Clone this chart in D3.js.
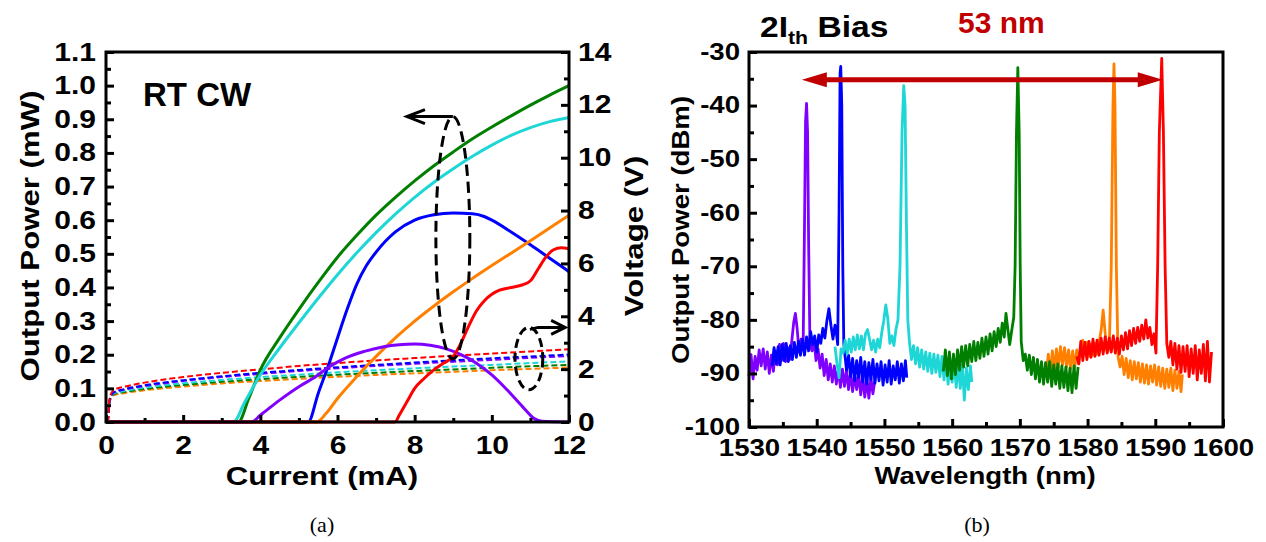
<!DOCTYPE html>
<html><head><meta charset="utf-8">
<script src="https://cdn.jsdelivr.net/npm/d3@7"></script>
<style>
html,body{margin:0;padding:0;background:#fff;}
svg{display:block;}
text{font-family:"Liberation Sans",Arial,sans-serif;font-weight:bold;fill:#000;}
</style></head>
<body>
<svg id="chart" width="1266" height="542"></svg>
<script>
// ---------- Panel (a) data ----------
const liGreen  = [[0,0],[3.43,0],[3.7,0.07],[4,0.155],[4.5,0.25],[5,0.335],[5.5,0.415],[6,0.49],[6.5,0.555],[7,0.615],[7.5,0.668],[8,0.717],[8.5,0.762],[9,0.803],[9.5,0.842],[10,0.877],[10.5,0.91],[11,0.942],[11.5,0.972],[12,1.0]];
const liCyan   = [[0,0],[3.3,0],[3.6,0.06],[4,0.14],[4.5,0.22],[5,0.295],[5.5,0.368],[6,0.438],[6.5,0.503],[7,0.563],[7.5,0.618],[8,0.668],[8.5,0.713],[9,0.753],[9.5,0.79],[10,0.823],[10.5,0.852],[11,0.875],[11.5,0.893],[12,0.905]];
const liBlue   = [[0,0],[5.24,0],[5.5,0.085],[5.8,0.18],[6,0.25],[6.25,0.335],[6.5,0.41],[6.75,0.465],[7,0.505],[7.5,0.565],[8,0.60],[8.5,0.616],[9,0.621],[9.5,0.619],[9.8,0.611],[10,0.60],[10.5,0.565],[11,0.527],[11.5,0.487],[12,0.447]];
const liOrange = [[0,0],[5.46,0],[5.7,0.025],[6,0.07],[6.5,0.135],[7,0.195],[7.5,0.25],[8,0.30],[8.5,0.345],[9,0.387],[9.5,0.427],[10,0.465],[10.5,0.502],[11,0.539],[11.5,0.577],[12,0.615]];
const liPurple = [[0,0],[3.77,0],[4,0.02],[4.5,0.065],[5,0.105],[5.4,0.132],[5.8,0.165],[6.2,0.19],[6.7,0.21],[7.2,0.224],[7.6,0.23],[8,0.232],[8.4,0.228],[8.8,0.218],[9.2,0.2],[9.6,0.175],[10,0.14],[10.4,0.095],[10.8,0.045],[11.1,0.01],[11.3,0.002],[12,0]];
const liRed    = [[0,0],[7.49,0],[7.6,0.02],[7.8,0.06],[8.0,0.10],[8.25,0.13],[8.5,0.155],[8.75,0.175],[9.0,0.195],[9.2,0.235],[9.4,0.285],[9.6,0.33],[9.8,0.36],[10.0,0.38],[10.2,0.392],[10.5,0.40],[10.8,0.408],[11.0,0.42],[11.2,0.455],[11.4,0.49],[11.6,0.512],[11.8,0.518],[12,0.515]];

const currentV = [0.05,0.1,0.2,0.5,1,2,3,4,5,6,7,8,9,10,11,12];
const vRed    = [0,0.95,1.21,1.34,1.49,1.70,1.86,1.99,2.12,2.23,2.33,2.42,2.51,2.59,2.67,2.75];
const vBlue   = [0,0.88,1.13,1.25,1.39,1.58,1.73,1.86,1.97,2.07,2.16,2.25,2.33,2.41,2.48,2.55];
const vPurple = [0,0.86,1.11,1.23,1.36,1.55,1.70,1.82,1.93,2.03,2.12,2.20,2.28,2.35,2.43,2.49];
const vCyan   = [0,0.84,1.08,1.18,1.30,1.47,1.59,1.70,1.79,1.88,1.96,2.03,2.10,2.16,2.23,2.29];
const vGreen  = [0,0.82,1.05,1.14,1.25,1.40,1.52,1.62,1.71,1.79,1.86,1.93,1.99,2.05,2.11,2.16];
const vOrange = [0,0.79,1.01,1.10,1.20,1.34,1.46,1.55,1.63,1.71,1.78,1.84,1.90,1.96,2.01,2.06];

const aXTicks = [0,2,4,6,8,10,12];
const aYTicks = [0,0.1,0.2,0.3,0.4,0.5,0.6,0.7,0.8,0.9,1.0,1.1];
const aVTicks = [0,2,4,6,8,10,12,14];

// ---------- Panel (b) data ----------
const spPurple = [[1530.0,-90.5],[1530.3,-86.5],[1530.6,-91.0],[1530.9,-86.8],[1531.2,-89.4],[1531.5,-85.6],[1531.8,-88.6],[1532.1,-85.4],[1532.4,-89.2],[1532.7,-86.0],[1533.0,-90.0],[1533.3,-86.6],[1533.6,-89.6],[1533.9,-85.8],[1534.2,-88.4],[1534.5,-84.6],[1534.8,-87.6],[1535.1,-84.4],[1535.4,-87.8],[1535.7,-85.2],[1536.0,-87.4],[1536.3,-84.2],[1536.6,-80.5],[1536.85,-78.8],[1537.1,-81.5],[1537.4,-86.0],[1537.7,-83.6],[1538.0,-84.5],[1538.2,-62.0],[1538.35,-43.0],[1538.5,-39.6],[1538.65,-45.0],[1538.8,-65.0],[1539.0,-84.5],[1539.3,-85.8],[1539.6,-83.8],[1539.9,-87.6],[1540.2,-85.4],[1540.5,-89.0],[1540.8,-86.4],[1541.1,-90.4],[1541.4,-87.4],[1541.7,-91.2],[1542.0,-88.2],[1542.3,-91.6],[1542.6,-88.6],[1542.9,-92.0],[1543.2,-89.0],[1543.5,-92.6],[1543.8,-89.2],[1544.1,-92.4],[1544.4,-89.4],[1544.7,-93.0],[1545.0,-89.8],[1545.3,-93.4],[1545.6,-90.2],[1545.9,-93.0],[1546.2,-90.0],[1546.5,-94.0],[1546.8,-90.6],[1547.1,-94.4],[1547.4,-91.0],[1547.7,-94.6],[1548.0,-90.8],[1548.3,-93.8],[1548.6,-91.2]];
const spBlue = [[1533.4,-88.6],[1533.7,-85.2],[1534.0,-88.2],[1534.3,-85.0],[1534.6,-88.4],[1534.9,-84.6],[1535.2,-87.6],[1535.5,-84.4],[1535.8,-87.8],[1536.1,-84.8],[1536.4,-87.4],[1536.7,-84.2],[1537.0,-87.0],[1537.3,-84.0],[1537.6,-86.6],[1537.9,-83.6],[1538.2,-86.6],[1538.5,-83.2],[1538.8,-85.8],[1539.1,-82.2],[1539.4,-84.6],[1539.7,-83.0],[1540.0,-86.0],[1540.3,-82.8],[1540.6,-84.4],[1540.9,-81.6],[1541.2,-83.4],[1541.5,-80.2],[1541.8,-77.9],[1542.1,-81.0],[1542.4,-83.6],[1542.7,-81.0],[1542.9,-82.4],[1543.1,-84.6],[1543.3,-60.0],[1543.45,-34.0],[1543.55,-32.7],[1543.7,-40.0],[1543.85,-70.0],[1544.0,-84.4],[1544.2,-87.0],[1544.4,-89.4],[1544.7,-86.6],[1545.0,-90.6],[1545.3,-87.2],[1545.6,-91.4],[1545.9,-87.6],[1546.2,-90.8],[1546.5,-87.0],[1546.8,-91.6],[1547.1,-87.8],[1547.4,-92.0],[1547.7,-88.0],[1548.0,-91.2],[1548.3,-87.4],[1548.6,-91.8],[1548.9,-88.2],[1549.2,-91.4],[1549.5,-87.8],[1549.8,-92.2],[1550.1,-88.4],[1550.4,-91.6],[1550.7,-87.6],[1551.0,-92.0],[1551.3,-88.6],[1551.6,-91.2],[1551.9,-87.8],[1552.2,-91.8],[1552.5,-88.2],[1552.8,-91.4],[1553.1,-87.6],[1553.3,-90.8]];
const spCyan = [[1542.7,-85.0],[1543.0,-88.2],[1543.3,-90.8],[1543.6,-85.4],[1543.9,-86.2],[1544.2,-83.8],[1544.5,-86.4],[1544.8,-83.6],[1545.1,-86.0],[1545.4,-83.2],[1545.7,-85.6],[1546.0,-82.8],[1546.3,-85.4],[1546.6,-83.0],[1546.9,-85.6],[1547.2,-82.6],[1547.5,-81.8],[1547.8,-83.6],[1548.1,-85.6],[1548.4,-83.8],[1548.7,-86.0],[1549.0,-83.6],[1549.3,-85.2],[1549.6,-82.4],[1549.9,-80.2],[1550.2,-77.2],[1550.5,-79.8],[1550.8,-84.4],[1551.1,-83.0],[1551.4,-84.8],[1551.7,-81.8],[1552.0,-80.0],[1552.3,-70.0],[1552.6,-45.0],[1552.85,-36.3],[1553.05,-40.0],[1553.25,-62.0],[1553.45,-80.0],[1553.7,-84.2],[1554.0,-87.4],[1554.3,-84.8],[1554.6,-88.2],[1554.9,-85.2],[1555.2,-88.8],[1555.5,-85.6],[1555.8,-89.2],[1556.1,-86.0],[1556.4,-89.6],[1556.7,-86.2],[1557.0,-90.0],[1557.3,-86.4],[1557.6,-89.8],[1557.9,-86.6],[1558.2,-90.6],[1558.5,-86.8],[1558.8,-91.2],[1559.1,-87.0],[1559.4,-92.0],[1559.7,-87.4],[1560.0,-91.6],[1560.3,-87.8],[1560.6,-92.6],[1560.9,-88.2],[1561.2,-92.8],[1561.5,-88.4],[1561.8,-95.0],[1562.1,-89.0],[1562.4,-93.0],[1562.7,-88.6],[1562.9,-91.6]];
const spGreen = [[1558.7,-89.6],[1559.0,-85.6],[1559.3,-90.4],[1559.6,-86.0],[1559.9,-91.0],[1560.2,-86.4],[1560.5,-90.2],[1560.8,-85.6],[1561.1,-89.4],[1561.4,-85.0],[1561.7,-88.8],[1562.0,-84.8],[1562.3,-88.6],[1562.6,-84.6],[1562.9,-87.8],[1563.2,-84.0],[1563.5,-87.6],[1563.8,-84.2],[1564.1,-87.2],[1564.4,-83.4],[1564.7,-86.8],[1565.0,-83.2],[1565.3,-86.4],[1565.6,-82.6],[1565.9,-85.8],[1566.2,-82.2],[1566.5,-85.0],[1566.8,-81.6],[1567.1,-84.2],[1567.4,-80.6],[1567.7,-83.2],[1567.95,-78.8],[1568.2,-81.5],[1568.5,-84.6],[1568.8,-82.0],[1569.1,-79.5],[1569.3,-70.0],[1569.5,-45.0],[1569.7,-32.9],[1569.9,-45.0],[1570.05,-70.0],[1570.2,-84.0],[1570.5,-87.6],[1570.8,-86.4],[1571.1,-89.4],[1571.4,-86.6],[1571.7,-90.2],[1572.0,-87.0],[1572.3,-91.0],[1572.6,-87.4],[1572.9,-91.6],[1573.2,-87.8],[1573.5,-92.0],[1573.8,-88.0],[1574.1,-91.6],[1574.4,-87.8],[1574.7,-92.4],[1575.0,-88.4],[1575.3,-92.0],[1575.6,-88.2],[1575.9,-92.8],[1576.2,-88.6],[1576.5,-92.6],[1576.8,-88.8],[1577.1,-93.2],[1577.4,-89.0],[1577.7,-93.6],[1578.0,-88.6],[1578.3,-92.8],[1578.6,-88.8]];
const spOrange = [[1573.9,-90.4],[1574.2,-86.4],[1574.5,-90.2],[1574.8,-85.8],[1575.1,-89.6],[1575.4,-85.4],[1575.7,-88.8],[1576.0,-85.0],[1576.3,-88.4],[1576.6,-85.2],[1576.9,-88.8],[1577.2,-85.6],[1577.5,-89.2],[1577.8,-85.8],[1578.1,-89.0],[1578.4,-85.6],[1578.7,-88.2],[1579.0,-84.8],[1579.3,-83.8],[1579.6,-86.0],[1579.9,-84.2],[1580.2,-86.8],[1580.5,-84.6],[1580.8,-86.6],[1581.1,-84.4],[1581.4,-86.4],[1581.7,-84.2],[1582.0,-82.0],[1582.3,-78.2],[1582.6,-82.5],[1582.9,-86.0],[1583.2,-85.4],[1583.5,-70.0],[1583.75,-40.0],[1583.9,-32.2],[1584.05,-40.0],[1584.25,-70.0],[1584.5,-86.9],[1584.8,-88.8],[1585.1,-86.8],[1585.4,-90.2],[1585.7,-87.2],[1586.0,-90.8],[1586.3,-87.6],[1586.6,-91.2],[1586.9,-87.8],[1587.2,-91.0],[1587.5,-88.0],[1587.8,-91.6],[1588.1,-88.2],[1588.4,-91.8],[1588.7,-88.4],[1589.0,-92.0],[1589.3,-88.6],[1589.6,-91.6],[1589.9,-88.4],[1590.2,-92.2],[1590.5,-88.8],[1590.8,-92.4],[1591.1,-89.0],[1591.4,-92.8],[1591.7,-89.2],[1592.0,-92.6],[1592.3,-89.0],[1592.6,-93.2],[1592.9,-89.4],[1593.2,-92.8],[1593.5,-89.6],[1593.8,-93.4],[1594.0,-90.2]];
const spRed = [[1578.4,-86.8],[1578.7,-88.2],[1579.0,-84.0],[1579.3,-87.6],[1579.6,-84.2],[1579.9,-87.4],[1580.2,-84.0],[1580.5,-87.0],[1580.8,-83.6],[1581.1,-86.8],[1581.4,-83.8],[1581.7,-86.6],[1582.0,-83.4],[1582.3,-86.4],[1582.6,-83.2],[1582.9,-86.2],[1583.2,-83.4],[1583.5,-86.0],[1583.8,-83.0],[1584.1,-86.2],[1584.4,-83.4],[1584.7,-86.4],[1585.0,-83.0],[1585.3,-85.6],[1585.6,-82.4],[1585.9,-85.4],[1586.2,-82.0],[1586.5,-84.8],[1586.8,-81.6],[1587.1,-84.4],[1587.4,-81.4],[1587.7,-84.0],[1588.0,-81.0],[1588.3,-83.6],[1588.6,-80.0],[1588.9,-83.4],[1589.2,-81.4],[1589.5,-84.6],[1589.8,-82.6],[1590.1,-86.2],[1590.35,-70.0],[1590.6,-45.0],[1590.95,-31.2],[1591.2,-45.0],[1591.45,-70.0],[1591.7,-84.4],[1592.0,-87.0],[1592.3,-84.0],[1592.6,-88.4],[1592.9,-84.4],[1593.2,-89.2],[1593.5,-84.8],[1593.8,-89.8],[1594.1,-85.0],[1594.4,-89.6],[1594.7,-84.8],[1595.0,-90.6],[1595.3,-85.4],[1595.6,-90.0],[1595.9,-84.8],[1596.2,-91.2],[1596.5,-85.6],[1596.8,-90.0],[1597.1,-84.6],[1597.4,-91.4],[1597.7,-84.0],[1598.0,-91.6],[1598.3,-86.0]];
const bXTicks = [1530,1540,1550,1560,1570,1580,1590,1600];
const bYTicks = [-100,-90,-80,-70,-60,-50,-40,-30];
const spanArrow = [1537.8, 1591.1];   // wavelength span of the 53 nm arrow
const spanArrowLevel = -35.2;

const COL = {purple:"#8000ff", blue:"#0000ff", cyan:"#1ed6d6", green:"#007f00", orange:"#ff8000", red:"#ff0000"};

// ---------- setup ----------
const svg = d3.select("#chart");
const SX = 1.2; // horizontal stretch of the original lettering

function stretchTicks(g, s){
  g.selectAll(".tick text").each(function(){
    const t = d3.select(this);
    const x = +t.attr("x") || 0;
    t.attr("x", x / s).attr("transform", `scale(${s},1)`);
  });
}
function label(x, y, str, size, opt={}){
  const t = svg.append("text")
    .attr("transform", `translate(${x},${y}) rotate(${opt.rot||0}) scale(${opt.sx||1},1)`)
    .attr("text-anchor", opt.anchor||"middle")
    .style("font-size", size+"px");
  if(opt.fill) t.style("fill", opt.fill);
  if(opt.serif) t.style("font-family",'"Liberation Serif","Times New Roman",serif').style("font-weight","normal");
  t.text(str);
  return t;
}
const plain = d => String(d);

// ================= Panel (a) =================
const xA = d3.scaleLinear().domain([0,12]).range([106,569]);
const yA = d3.scaleLinear().domain([0,1.1]).range([422,52]);
const vA = d3.scaleLinear().domain([0,14]).range([422,52]);

const gA = svg.append("g");
svg.append("clipPath").attr("id","clipA").append("rect")
  .attr("x",106).attr("y",52).attr("width",463).attr("height",370);

const vSeries = [[vOrange,COL.orange],[vGreen,COL.green],[vCyan,COL.cyan],[vPurple,COL.purple],[vBlue,COL.blue],[vRed,COL.red]];
const lineV = d3.line().x((d,i)=>xA(currentV[i])).y(d=>vA(d)).curve(d3.curveMonotoneX);
vSeries.forEach(([arr,c])=>{
  gA.append("path").attr("d", lineV(arr)).attr("fill","none").attr("stroke",c)
    .attr("stroke-width",2).attr("stroke-dasharray","6,3").attr("clip-path","url(#clipA)");
});
const liSeries = [[liGreen,COL.green],[liCyan,COL.cyan],[liBlue,COL.blue],[liOrange,COL.orange],[liPurple,COL.purple],[liRed,COL.red]];
const lineLI = d3.line().x(d=>xA(d[0])).y(d=>yA(d[1])).curve(d3.curveMonotoneX);
liSeries.forEach(([arr,c])=>{
  gA.append("path").attr("d", lineLI(arr)).attr("fill","none").attr("stroke",c)
    .attr("stroke-width",3).attr("stroke-linejoin","round");
});

const axL = gA.append("g").attr("transform","translate(106,0)")
  .call(d3.axisLeft(yA).tickValues(aYTicks).tickFormat(d3.format(".1f")).tickSize(-8).tickPadding(10));
gA.append("g").attr("transform","translate(106,0)")
  .call(d3.axisLeft(yA).tickValues(d3.range(0.05,1.1,0.1)).tickFormat("").tickSize(-5));
const axB = gA.append("g").attr("transform","translate(0,422)")
  .call(d3.axisBottom(xA).tickValues(aXTicks).tickFormat(plain).tickSize(-7).tickPadding(14));
gA.append("g").attr("transform","translate(0,422)")
  .call(d3.axisBottom(xA).tickValues([1,3,5,7,9,11]).tickFormat("").tickSize(-4));
const axR = gA.append("g").attr("transform","translate(569,0)")
  .call(d3.axisRight(vA).tickValues(aVTicks).tickFormat(plain).tickSize(-8).tickPadding(9));
gA.append("g").attr("transform","translate(569,0)")
  .call(d3.axisRight(vA).tickValues([1,3,5,7,9,11,13]).tickFormat("").tickSize(-5));
gA.selectAll(".domain").remove();
gA.selectAll(".tick line").attr("stroke","#000").attr("stroke-width",3);
gA.selectAll(".tick text").style("font-size","25px").style("font-family",'"Liberation Sans",Arial,sans-serif').style("font-weight","bold");
[axL,axB,axR].forEach(g=>stretchTicks(g,SX));
gA.append("rect").attr("x",106).attr("y",52).attr("width",463).attr("height",370)
  .attr("fill","none").attr("stroke","#000").attr("stroke-width",3);

// annotations (a)
const ell1 = {cx:xA(8.99), cy:yA(0.548), rx:xA(0.44)-xA(0), ry:yA(0)-yA(0.36)};
gA.append("ellipse").attr("cx",ell1.cx).attr("cy",ell1.cy).attr("rx",ell1.rx).attr("ry",ell1.ry)
  .attr("fill","none").attr("stroke","#000").attr("stroke-width",3).attr("stroke-dasharray","11,6");
const topY = ell1.cy - ell1.ry;
const arrL = xA(7.8);
gA.append("path").attr("d",`M${ell1.cx},${topY}H${arrL}M${arrL+18},${topY-7}L${arrL},${topY}L${arrL+18},${topY+7}`)
  .attr("fill","none").attr("stroke","#000").attr("stroke-width",3);
const ell2 = {cx:xA(10.96), cy:vA(2.4), rx:xA(0.36)-xA(0), ry:vA(0)-vA(1.18)};
gA.append("ellipse").attr("cx",ell2.cx).attr("cy",ell2.cy).attr("rx",ell2.rx).attr("ry",ell2.ry)
  .attr("fill","none").attr("stroke","#000").attr("stroke-width",3).attr("stroke-dasharray","9,5");
const a2y = vA(3.58), a2x0 = xA(11.2), a2x1 = xA(11.9);
gA.append("path").attr("d",`M${ell2.cx+1},${ell2.cy-ell2.ry+2}L${a2x0},${a2y}H${a2x1}M${a2x1-14},${a2y-7}L${a2x1},${a2y}L${a2x1-14},${a2y+7}`)
  .attr("fill","none").attr("stroke","#000").attr("stroke-width",3);

label(143, 106, "RT CW", 33, {anchor:"start"});
label(39, 236, "Output Power (mW)", 26, {rot:-90, sx:SX});
label(322, 485, "Current (mA)", 26, {sx:SX});
label(643, 236, "Voltage (V)", 26, {rot:-90, sx:SX});
label(322, 532, "(a)", 22, {serif:true});

// ================= Panel (b) =================
const xB = d3.scaleLinear().domain([1530,1600]).range([749,1223]);
const yB = d3.scaleLinear().domain([-100,-30]).range([427,52]);
const gB = svg.append("g");
const lineB = d3.line().x(d=>xB(d[0])).y(d=>yB(d[1]));
[[spPurple,COL.purple],[spBlue,COL.blue],[spCyan,COL.cyan],[spOrange,COL.orange],[spGreen,COL.green],[spRed,COL.red]].forEach(([arr,c])=>{
  gB.append("path").attr("d", lineB(arr)).attr("fill","none").attr("stroke",c)
    .attr("stroke-width",2.8).attr("stroke-linejoin","round");
});
const bL = gB.append("g").attr("transform","translate(749,0)")
  .call(d3.axisLeft(yB).tickValues(bYTicks).tickFormat(plain).tickSize(-8).tickPadding(9));
gB.append("g").attr("transform","translate(749,0)")
  .call(d3.axisLeft(yB).tickValues([-95,-85,-75,-65,-55,-45,-35]).tickFormat("").tickSize(-5));
const bB = gB.append("g").attr("transform","translate(0,427)")
  .call(d3.axisBottom(xB).tickValues(bXTicks).tickFormat(plain).tickSize(-8).tickPadding(13));
gB.append("g").attr("transform","translate(0,427)")
  .call(d3.axisBottom(xB).tickValues([1535,1545,1555,1565,1575,1585,1595]).tickFormat("").tickSize(-5));
gB.selectAll(".domain").remove();
gB.selectAll(".tick line").attr("stroke","#000").attr("stroke-width",3);
gB.selectAll(".tick text").style("font-size","23px").style("font-family",'"Liberation Sans",Arial,sans-serif').style("font-weight","bold");
[bL,bB].forEach(g=>stretchTicks(g,SX));
gB.append("rect").attr("x",749).attr("y",52).attr("width",474).attr("height",375)
  .attr("fill","none").attr("stroke","#000").attr("stroke-width",3);

const ax0 = xB(spanArrow[0]), ax1 = xB(spanArrow[1]), ay = yB(spanArrowLevel);
gB.append("line").attr("x1",ax0+20).attr("x2",ax1-20).attr("y1",ay).attr("y2",ay)
  .attr("stroke","#c00000").attr("stroke-width",5);
gB.append("path").attr("d",`M${ax0},${ay}L${ax0+25},${ay-7.5}L${ax0+25},${ay+7.5}Z`).attr("fill","#c00000");
gB.append("path").attr("d",`M${ax1},${ay}L${ax1-25},${ay-7.5}L${ax1-25},${ay+7.5}Z`).attr("fill","#c00000");

const t2 = svg.append("text").attr("transform","translate(760,37) scale(1.12,1)").style("font-size","30px");
t2.append("tspan").text("2I");
t2.append("tspan").attr("dy",7).style("font-size","19px").text("th");
t2.append("tspan").attr("dy",-7).text(" Bias");
label(958, 33, "53 nm", 30, {anchor:"start", fill:"#c00000"});
label(689, 230, "Output Power (dBm)", 23, {rot:-90, sx:SX});
label(985, 484, "Wavelength (nm)", 23, {sx:SX});
label(977, 532, "(b)", 22, {serif:true});
</script>
</body></html>
